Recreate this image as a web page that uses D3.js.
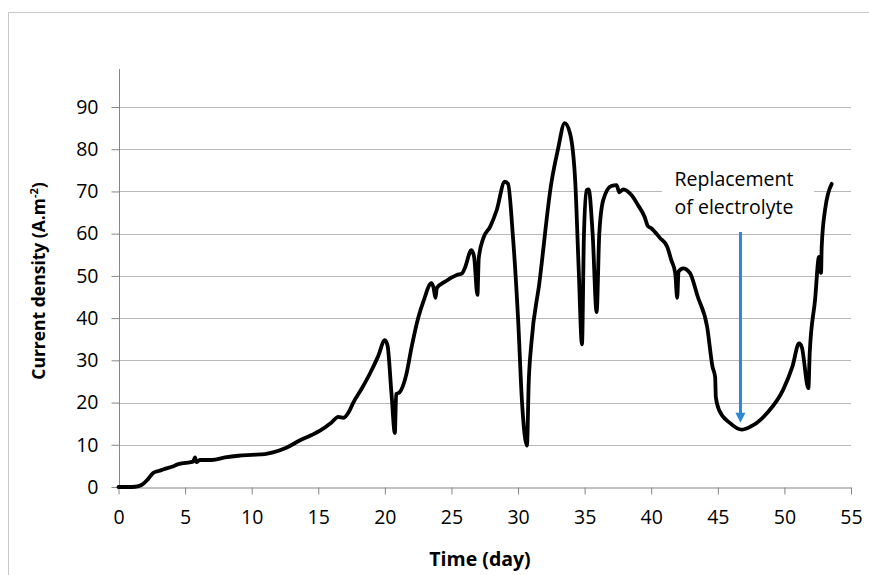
<!DOCTYPE html>
<html lang="en">
<head>
<meta charset="utf-8">
<title>Current density over time</title>
<script src="https://d3js.org/d3.v7.min.js"></script>
<style>
  body { margin: 0; background: #fff; }
  text { font-family: "Open Sans", sans-serif; fill: #000; }
</style>
</head>
<body>
<div id="chart"></div>
<script>
// data
var days = [0, 1.0, 1.5, 1.8, 2.2, 2.6, 3.0, 3.4, 4.0, 4.5, 5.0, 5.6, 5.75, 5.85, 6.1, 7.0, 8.0, 9.0, 10.0, 11.0,
  11.6, 12.6, 13.6, 14.5, 15.1, 16.0, 16.5, 16.9, 17.3, 17.6, 18.3, 18.9, 19.5, 20.0, 20.2, 20.5, 20.75, 20.85,
  21.1, 21.6, 22.0, 22.5, 22.9, 23.5, 23.65, 23.8, 23.9, 24.6, 25.4, 25.8, 26.0, 26.5, 26.7, 26.95, 27.05, 27.4,
  27.9, 28.4, 29.0, 29.25, 29.6, 30.0, 30.3, 30.67, 30.8, 31.0, 31.6, 32.5, 33.0, 33.5, 33.9, 34.3, 34.55, 34.8,
  34.95, 35.15, 35.3, 35.6, 35.9, 36.1, 36.4, 37.0, 37.4, 37.6, 37.9, 38.5, 39.0, 39.5, 39.75, 40.0, 40.65, 41.2,
  41.5, 41.8, 41.95, 42.05, 42.4, 42.9, 43.5, 44.2, 44.6, 44.8, 44.85, 45.1, 45.9, 46.8, 47.4, 48.7, 49.9, 50.6,
  51.1, 51.3, 51.8, 51.9, 52.3, 52.6, 52.75, 52.8, 53.05, 53.55];
var density = [0, 0, 0.2, 0.6, 1.8, 3.3, 3.8, 4.2, 4.8, 5.4, 5.7, 6.0, 7.0, 5.9, 6.4, 6.4, 7.0, 7.4, 7.6, 7.8,
  8.2, 9.3, 11.0, 12.3, 13.3, 15.3, 16.6, 16.4, 17.8, 19.8, 23.5, 27, 31, 34.8, 33.5, 22, 12.8, 22,
  22.4, 26.5, 33, 40, 44, 48.3, 47.3, 44.8, 47.1, 48.8, 50.2, 50.6, 51.8, 56.1, 54.5, 45.5, 54.2, 59,
  61.6, 65.6, 72.3, 71.8, 60, 40, 20, 9.8, 24.6, 34, 48.3, 72, 80, 86.2, 83.8, 72, 52, 33.8,
  60, 70.3, 70.5, 60, 41.4, 60, 68, 71.3, 71.5, 69.8, 70.5, 69.2, 66.8, 64, 61.8, 61.3, 59, 56.9,
  53.8, 50.7, 44.8, 51, 51.8, 50.7, 45, 37.9, 28.5, 26, 21.3, 18.2, 15.2, 13.6, 14.2, 17.5, 23, 28.5,
  34, 33.2, 23.4, 31.7, 44.3, 54.5, 50.7, 56.9, 65.6, 71.8];
var xTicks = [0, 5, 10, 15, 20, 25, 30, 35, 40, 45, 50, 55];
var yTicks = [0, 10, 20, 30, 40, 50, 60, 70, 80, 90];
// arrow for the electrolyte replacement: day, from value, to value
var arrowDay = 46.7, arrowFrom = 60.4, arrowTo = 15.2;

var width = 869, height = 575;

var svg = d3.select("#chart").append("svg")
  .attr("width", width)
  .attr("height", height);

// outer chart frame
svg.append("rect")
  .attr("x", 8.5).attr("y", 12.5)
  .attr("width", 1000).attr("height", 1000)
  .attr("fill", "none")
  .attr("stroke", "#c8c8c8");

var x = d3.scaleLinear().domain([0, 55]).range([118.5, 851]);
var y = d3.scaleLinear().domain([0, 90]).range([487, 107]);

// gridlines
svg.append("g").selectAll("line")
  .data(yTicks.slice(1))
  .enter().append("line")
    .attr("x1", x(0)).attr("x2", x(55))
    .attr("y1", function(d) { return Math.round(y(d)) + 0.5; })
    .attr("y2", function(d) { return Math.round(y(d)) + 0.5; })
    .attr("stroke", "#b8b8b8");

// y axis
var yAxis = svg.append("g")
  .attr("transform", "translate(" + (Math.round(x(0)) + 0.5) + ",0)")
  .call(d3.axisLeft(y).tickValues(yTicks).tickSize(8).tickPadding(13));
yAxis.select(".domain").remove();
yAxis.append("line")
  .attr("x1", 0).attr("x2", 0)
  .attr("y1", 69).attr("y2", y(0))
  .attr("stroke", "#868686");

// x axis
var xAxis = svg.append("g")
  .attr("transform", "translate(0," + (Math.round(y(0)) + 0.5) + ")")
  .call(d3.axisBottom(x).tickValues(xTicks).tickSize(7).tickPadding(16).tickSizeOuter(0));

svg.selectAll(".tick line").attr("stroke", "#868686");
xAxis.select(".domain").attr("stroke", "#868686");
svg.selectAll(".tick text")
  .style("font-family", "'Open Sans', sans-serif")
  .style("font-size", "19.5px")
  .attr("fill", "#000");

// axis titles
svg.append("text")
  .attr("x", 480).attr("y", 566)
  .attr("text-anchor", "middle")
  .style("font-size", "19.5px")
  .style("font-weight", "bold")
  .text("Time (day)");

var yt = svg.append("text")
  .attr("transform", "translate(45,281) rotate(-90)")
  .attr("text-anchor", "middle")
  .style("font-size", "17.5px")
  .style("font-weight", "bold");
yt.append("tspan").text("Current density (A.m");
yt.append("tspan").attr("dy", -7).style("font-size", "11px").text("-2");
yt.append("tspan").attr("dy", 7).text(")");

// the curve
var pts = days.map(function(d, i) { return [d, density[i]]; });
var line = d3.line()
  .x(function(d) { return x(d[0]); })
  .y(function(d) { return y(d[1]); })
  .curve(d3.curveMonotoneX);

svg.append("path")
  .datum(pts)
  .attr("d", line)
  .attr("fill", "none")
  .attr("stroke", "#000")
  .attr("stroke-width", 3.8)
  .attr("stroke-linejoin", "round")
  .attr("stroke-linecap", "round");

// annotation
svg.append("rect")
  .attr("x", 662).attr("y", 162)
  .attr("width", 152).attr("height", 60)
  .attr("fill", "#fff");
var note = svg.append("text")
  .attr("text-anchor", "middle")
  .style("font-size", "19.5px");
note.append("tspan").attr("x", 734).attr("y", 186).text("Replacement");
note.append("tspan").attr("x", 734).attr("y", 214).text("of electrolyte");

var blue = "#2f87d3";
svg.append("line")
  .attr("x1", x(arrowDay)).attr("x2", x(arrowDay))
  .attr("y1", y(arrowFrom)).attr("y2", y(arrowTo) - 8)
  .attr("stroke", blue)
  .attr("stroke-width", 3);
svg.append("path")
  .attr("d", "M" + (x(arrowDay) - 5) + "," + (y(arrowTo) - 10) +
             "L" + (x(arrowDay) + 5) + "," + (y(arrowTo) - 10) +
             "L" + x(arrowDay) + "," + y(arrowTo) + "Z")
  .attr("fill", blue);
</script>
</body>
</html>
